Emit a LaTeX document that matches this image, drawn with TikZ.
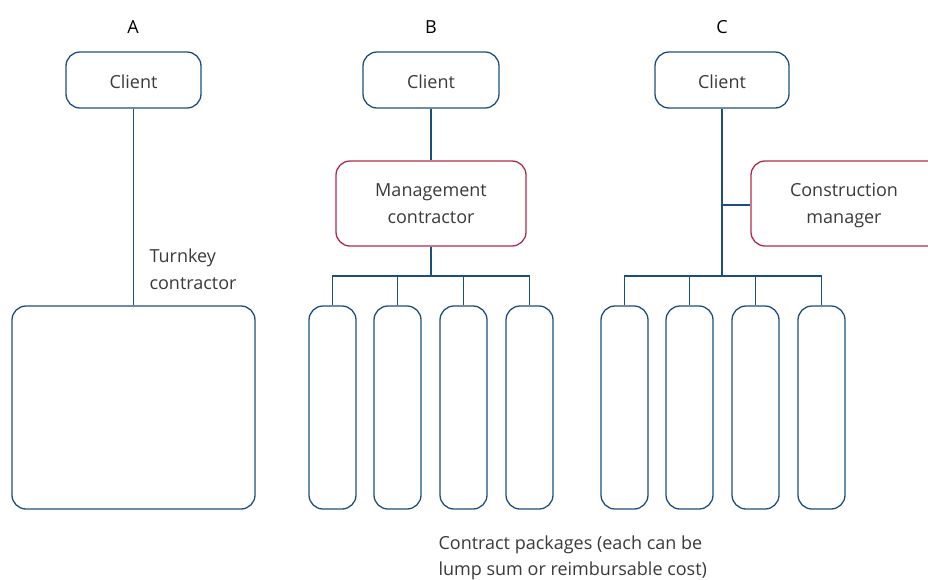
\documentclass[tikz,border=0pt]{standalone}
\usepackage{fontspec}
\setmainfont{Open Sans}
\begin{document}
\begin{tikzpicture}[x=1pt,y=-1pt,
  every node/.style={font=\fontsize{18}{26.5}\selectfont, text=txt},
  boxb/.style={draw=navy, line width=1.3pt, rounded corners=14pt, inner sep=0pt},
  boxr/.style={draw=wine, line width=1.3pt, rounded corners=14pt, inner sep=0pt, align=center},
  link/.style={draw=navy, line width=1.3pt},
  head/.style={font=\fontsize{18}{21}\selectfont, text=black}]
\definecolor{navy}{HTML}{1D4F7C}
\definecolor{wine}{HTML}{B02A4B}
\definecolor{txt}{HTML}{3A3A3A}
\useasboundingbox (0,0) rectangle (928,579);
\clip (0,0) rectangle (928,579);

% column headings
\node[head] (hA) at (133,27) {A};
\node[head] (hB) at (431,27) {B};
\node[head] (hC) at (722,27) {C};

% clients
\node[boxb, minimum width=135pt, minimum height=56pt] (cA) at (133.5,80) {};
\node[boxb, minimum width=136pt, minimum height=56pt] (cB) at (431,80) {};
\node[boxb, minimum width=134pt, minimum height=56pt] (cC) at (722,80) {};
\node (tA) at (133.5,82) {Client};
\node (tB) at (431,82) {Client};
\node (tC) at (722,82) {Client};

% A: turnkey
\node[boxb, minimum width=243pt, minimum height=203pt] (tk) at (133.5,407.5) {};
\draw[link] (cA.south) -- (tk.north);
\node[anchor=west, align=left] (tkl) at (146,269) {Turnkey\\contractor};

% B: management contracting
\node[boxr, minimum width=190pt, minimum height=85pt] (mc) at (431,203.5) {};
\node[align=center] (mcl) at (431,203.5) {Management\\contractor};
\draw[link] (cB.south) -- (mc.north);
\coordinate (busB) at (431,276);
\draw[link] (mc.south) -- (busB);
\foreach \i/\x in {1/332.5,2/397.5,3/463.5,4/529.5}{
  \node[boxb, minimum width=47pt, minimum height=203pt] (pB\i) at (\x,407.5) {};
}
\draw[link] (pB1.north) |- (busB) -| (pB4.north);
\draw[link] (pB2.north) -- (pB2.north |- busB);
\draw[link] (pB3.north) -- (pB3.north |- busB);

% C: construction management (box runs past the right margin)
\node[boxr, minimum width=200pt, minimum height=85pt] (cm) at (851,203.5) {};
\node[align=center] (cml) at (844,205.5) {Construction\\manager};
\coordinate (busC) at (722,276);
\coordinate (tap) at (722,205);
\draw[link] (cC.south) -- (busC);
\draw[link] (tap) -- (tap -| cm.west);
\foreach \i/\x in {1/624.5,2/689.5,3/755.5,4/821.5}{
  \node[boxb, minimum width=47pt, minimum height=203pt] (pC\i) at (\x,407.5) {};
}
\draw[link] (pC1.north) |- (busC) -| (pC4.north);
\draw[link] (pC2.north) -- (pC2.north |- busC);
\draw[link] (pC3.north) -- (pC3.north |- busC);

% caption
\node[anchor=west, align=left] (cap) at (435,558) {Contract packages (each can be\\lump sum or reimbursable cost)};
\end{tikzpicture}
\end{document}
